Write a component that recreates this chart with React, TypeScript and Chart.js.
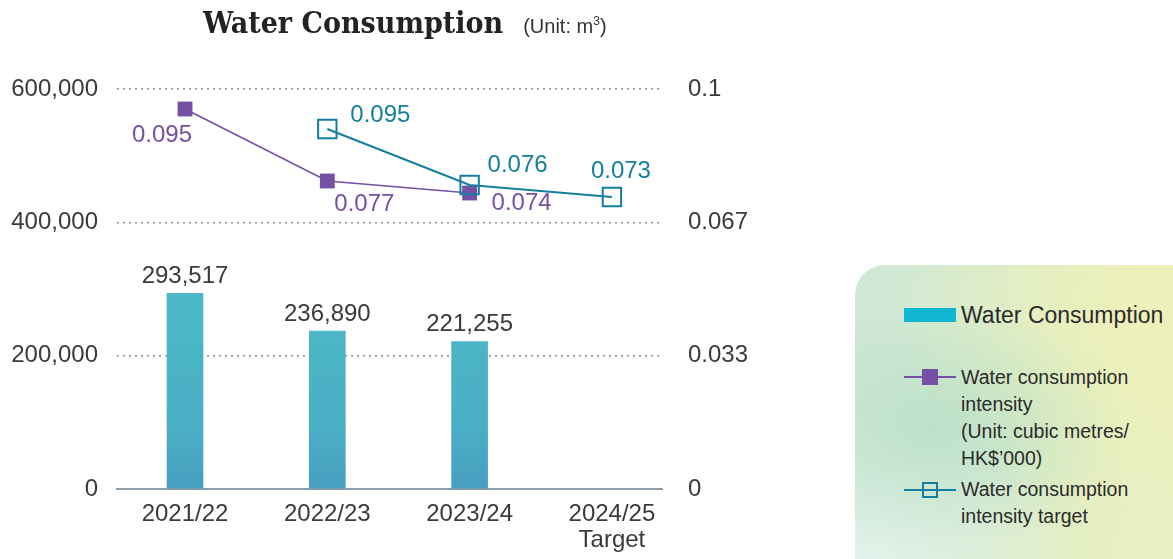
import React, { useEffect, useRef } from 'react';
import { Chart, registerables } from 'chart.js';

Chart.register(...registerables);

const categories: (string | string[])[] = ['2021/22', '2022/23', '2023/24', ['2024/25', 'Target']];
const consumption: (number | null)[] = [293517, 236890, 221255, null];
const intensity: (number | null)[] = [0.095, 0.077, 0.074, null];
const intensityLabels: string[] = ['0.095', '0.077', '0.074', ''];
const intensityTarget: (number | null)[] = [null, 0.09, 0.076, 0.073];
const intensityTargetLabels: string[] = ['', '0.095', '0.076', '0.073'];
const leftTicks: number[] = [0, 200000, 400000, 600000];
const rightTickValues: number[] = [0, 0.1 / 3, 0.2 / 3, 0.1];
const rightTickLabels: string[] = ['0', '0.033', '0.067', '0.1'];

// label offsets (styling only)
const intensityOffsets = [[-23, 26], [37, 23], [52, 10], [0, 0]];
const targetOffsets = [[0, 0], [53, -14], [48, -20], [9, -26]];

const FONT = '"Liberation Sans", Arial, Helvetica, sans-serif';
const PURPLE = '#7451a3';
const TEAL = '#137f9e';
const TEXT = '#3a3a3a';

const fmt = (v: number) => v.toLocaleString('en-US');

const labelPlugin = {
  id: 'valueLabels',
  afterDatasetsDraw(chart: any) {
    const ctx = chart.ctx;
    ctx.save();
    ctx.font = `24px ${FONT}`;
    ctx.textBaseline = 'middle';
    ctx.textAlign = 'center';
    const bars = chart.getDatasetMeta(2);
    bars.data.forEach((el: any, i: number) => {
      const v = consumption[i];
      if (v == null) return;
      ctx.fillStyle = TEXT;
      ctx.fillText(fmt(v), el.x, el.y - 17);
    });
    const im = chart.getDatasetMeta(1);
    im.data.forEach((el: any, i: number) => {
      if (intensity[i] == null) return;
      ctx.fillStyle = PURPLE;
      ctx.fillText(intensityLabels[i], el.x + intensityOffsets[i][0], el.y + intensityOffsets[i][1]);
    });
    const tm = chart.getDatasetMeta(0);
    tm.data.forEach((el: any, i: number) => {
      if (intensityTarget[i] == null) return;
      ctx.fillStyle = TEAL;
      ctx.fillText(intensityTargetLabels[i], el.x + targetOffsets[i][0], el.y + targetOffsets[i][1]);
    });
    ctx.restore();
  },
};

function barFill(context: any) {
  const chart = context.chart;
  const area = chart.chartArea;
  if (!area) return '#4bb4c6';
  const g = chart.ctx.createLinearGradient(0, area.top, 0, area.bottom);
  g.addColorStop(0, '#52bccb');
  g.addColorStop(0.6, '#4cb6c7');
  g.addColorStop(0.85, '#4aaec5');
  g.addColorStop(1, '#489fc0');
  return g;
}

export default function App() {
  const ref = useRef<HTMLCanvasElement | null>(null);

  useEffect(() => {
    if (!ref.current) return;
    const chart = new Chart(ref.current, {
      type: 'bar',
      data: {
        datasets: [
          {
            type: 'line',
            label: 'Water consumption intensity target',
            data: intensityTarget.map((y, i) => ({ x: i, y })) as any,
            yAxisID: 'y1',
            borderColor: TEAL,
            borderWidth: 2,
            backgroundColor: 'rgba(255,255,255,0)',
            pointStyle: 'rect',
            pointRadius: 13,
            pointBorderWidth: 2,
            pointBorderColor: TEAL,
            pointBackgroundColor: 'rgba(255,255,255,0)',
            spanGaps: false,
            order: 0,
          } as any,
          {
            type: 'line',
            label: 'Water consumption intensity',
            data: intensity.map((y, i) => ({ x: i, y })) as any,
            yAxisID: 'y1',
            borderColor: PURPLE,
            borderWidth: 1.6,
            backgroundColor: PURPLE,
            pointStyle: 'rect',
            pointRadius: 10.5,
            pointBorderWidth: 0,
            pointBackgroundColor: PURPLE,
            order: 1,
          } as any,
          {
            type: 'bar',
            label: 'Water Consumption',
            data: consumption.map((y, i) => ({ x: i, y })) as any,
            yAxisID: 'y',
            backgroundColor: barFill,
            barThickness: 36,
            borderWidth: 0,
            order: 2,
          } as any,
        ],
      },
      options: {
        responsive: false,
        animation: false,
        events: [],
        layout: { padding: { top: 89, left: 0, right: 0, bottom: 0 } },
        plugins: { legend: { display: false }, tooltip: { enabled: false }, title: { display: false } },
        scales: {
          x: {
            type: 'linear',
            offset: false,
            min: -0.478,
            max: 3.352,
            afterBuildTicks: (scale: any) => {
              scale.ticks = categories.map((_, i) => ({ value: i }));
            },
            afterFit: (scale: any) => {
              scale.height = 70;
            },
            ticks: {
              includeBounds: false,
              autoSkip: false,
              maxRotation: 0,
              padding: 12,
              color: TEXT,
              font: { family: FONT, size: 24, lineHeight: 1.1 },
              callback: (_v: any, i: number) => categories[i] as any,
            },
            grid: { display: false, drawTicks: false },
            border: { display: true, color: '#8c9eac', width: 2 },
          } as any,
          y: {
            type: 'linear',
            position: 'left',
            min: 0,
            max: 600000,
            afterBuildTicks: (scale: any) => {
              scale.ticks = leftTicks.map((v) => ({ value: v }));
            },
            afterFit: (scale: any) => {
              scale.width = 117;
            },
            ticks: {
              padding: 19,
              color: TEXT,
              font: { family: FONT, size: 24 },
              callback: (v: any) => fmt(Number(v)),
            },
            grid: {
              drawTicks: false,
              lineWidth: 1.5,
              color: (c: any) => (c.tick && c.tick.value === 0 ? 'rgba(0,0,0,0)' : '#7d96a8'),
              borderDash: [2, 4],
            } as any,
            border: { display: false, dash: [2, 4] } as any,
          },
          y1: {
            type: 'linear',
            position: 'right',
            min: 0,
            max: 0.1,
            afterBuildTicks: (scale: any) => {
              scale.ticks = rightTickValues.map((v) => ({ value: v }));
            },
            afterFit: (scale: any) => {
              scale.width = 98;
            },
            ticks: {
              padding: 26,
              color: TEXT,
              font: { family: FONT, size: 24 },
              callback: (_v: any, i: number) => rightTickLabels[i],
            },
            grid: { display: false, drawTicks: false },
            border: { display: false },
          },
        },
      },
      plugins: [labelPlugin],
    });
    return () => chart.destroy();
  }, []);

  const legendText: React.CSSProperties = {
    position: 'absolute',
    left: 106,
    fontFamily: FONT,
    color: '#2b2b2b',
    fontSize: 19.5,
    lineHeight: '27px',
    whiteSpace: 'nowrap',
  };

  return (
    <div style={{ position: 'fixed', left: 0, top: 0, width: 1173, height: 559, background: '#fff', overflow: 'hidden' }}>
      <canvas ref={ref} width={760} height={559} style={{ position: 'absolute', left: 0, top: 0, width: 760, height: 559 }} />
      <div style={{ position: 'absolute', left: 203, top: 5, whiteSpace: 'nowrap' }}>
        <span style={{ fontFamily: '"DejaVu Serif", serif', fontWeight: 'bold', fontStretch: 'condensed', fontSize: 30, color: '#232323' }}>
          Water Consumption
        </span>
        <span style={{ fontFamily: FONT, fontSize: 20, color: '#333', marginLeft: 20 }}>
          (Unit: m<sup style={{ fontSize: 12 }}>3</sup>)
        </span>
      </div>
      <div
        style={{
          position: 'absolute',
          left: 855,
          top: 265,
          width: 318,
          height: 294,
          borderTopLeftRadius: 30,
          background:
            'radial-gradient(ellipse at 25% 55%, rgba(176,220,196,0.7), rgba(176,220,196,0) 55%), radial-gradient(ellipse at 95% 15%, rgba(238,241,184,0.95), rgba(238,241,184,0) 60%), radial-gradient(ellipse at 5% 100%, rgba(226,242,236,0.9), rgba(226,242,236,0) 45%), linear-gradient(100deg, #cfe7d6 0%, #d7ebcf 40%, #e4eec2 75%, #ecf1c4 100%)',
        }}
      >
        <div style={{ position: 'absolute', left: 49, top: 43, width: 52, height: 14, background: '#12b5cf' }} />
        <div style={{ ...legendText, top: 36, fontSize: 23, lineHeight: '28px' }}>Water Consumption</div>

        <div style={{ position: 'absolute', left: 49, top: 111, width: 52, height: 2, background: PURPLE }} />
        <div style={{ position: 'absolute', left: 67, top: 104, width: 16, height: 16, background: PURPLE }} />
        <div style={{ ...legendText, top: 99 }}>
          Water consumption
          <br />
          intensity
          <br />
          (Unit: cubic metres/
          <br />
          HK$’000)
        </div>

        <div style={{ position: 'absolute', left: 49, top: 224, width: 52, height: 1.5, background: TEAL }} />
        <div style={{ position: 'absolute', left: 67, top: 217, width: 12, height: 12, border: `2px solid ${TEAL}` }} />
        <div style={{ ...legendText, top: 211 }}>
          Water consumption
          <br />
          intensity target
        </div>
      </div>
    </div>
  );
}
